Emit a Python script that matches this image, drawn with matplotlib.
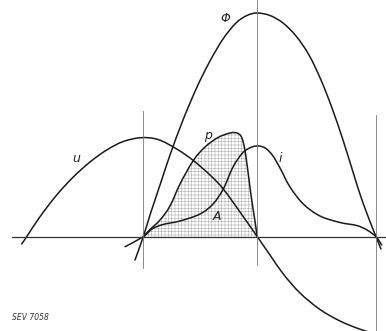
import numpy as np
import matplotlib
matplotlib.use("Agg")
import matplotlib.pyplot as plt
from matplotlib.path import Path
from matplotlib.patches import PathPatch

# curve points (x, y in picture units, y downwards)
u_x = [21.7, 26.7, 40.0, 56.7, 73.3, 90.0, 106.7, 123.3, 141.0, 158.0, 176.7, 193.3, 210.0, 223.3, 240.0, 257.3, 270.0, 283.3, 300.0, 320.0, 340.0, 358.0, 372.0]
u_y = [244.0, 236.7, 216.7, 195.0, 177.0, 162.0, 150.0, 141.5, 137.7, 139.5, 149.0, 160.5, 175.0, 189.0, 212.0, 236.7, 255.0, 274.0, 293.0, 309.5, 321.0, 328.5, 333.0]

phi_x = [135.0, 143.3, 150.0, 160.0, 170.0, 183.0, 197.0, 210.0, 223.0, 236.0, 247.0, 257.0, 270.0, 283.0, 296.0, 309.0, 321.0, 332.0, 343.0, 353.0, 363.0, 376.0, 381.0]
phi_y = [260.0, 236.7, 215.0, 185.0, 155.0, 120.0, 87.0, 61.0, 39.0, 23.0, 15.5, 13.0, 15.5, 23.0, 36.0, 55.0, 80.0, 108.0, 140.0, 172.0, 203.0, 236.7, 249.0]

i_x = [125.0, 143.3, 152.0, 163.0, 180.0, 200.0, 213.0, 223.3, 233.0, 243.0, 252.0, 259.0, 266.0, 273.0, 280.0, 290.0, 303.3, 320.0, 340.0, 356.7, 367.0, 376.0, 381.7]
i_y = [246.7, 236.7, 229.0, 224.5, 221.0, 214.0, 204.0, 189.0, 167.0, 152.5, 147.0, 146.0, 148.5, 156.0, 168.0, 187.0, 204.0, 216.0, 222.5, 225.5, 230.0, 236.7, 245.0]

p_x = [143.3, 150.0, 160.0, 170.0, 180.0, 193.3, 205.0, 218.0, 230.0, 237.0, 241.5, 244.5, 247.5, 251.0, 254.5, 257.3]
p_y = [236.7, 229.5, 220.0, 206.0, 184.0, 160.5, 147.0, 137.5, 133.0, 133.0, 137.0, 148.0, 168.0, 195.0, 218.0, 236.7]

# axis and verticals
axis_y = 236.7
vert_x = [143.3, 257.3, 375.7]
vert_top = [111.0, 0.0, 115.0]
vert_bot = [268.0, 265.0, 331.0]


def smooth_path(xs, ys):
    # Catmull-Rom through the points, drawn as cubic Bezier segments
    pts = np.column_stack([xs, ys])
    verts = [pts[0]]
    codes = [Path.MOVETO]
    n = len(pts)
    for k in range(n - 1):
        p0 = pts[max(k - 1, 0)]
        p1 = pts[k]
        p2 = pts[k + 1]
        p3 = pts[min(k + 2, n - 1)]
        verts += [p1 + (p2 - p0) / 6, p2 - (p3 - p1) / 6, p2]
        codes += [Path.CURVE4] * 3
    return verts, codes


fig = plt.figure(figsize=(3.86, 3.31), dpi=100)
ax = fig.add_axes([0, 0, 1, 1])
ax.set_xlim(0, 386)
ax.set_ylim(331, 0)
ax.axis("off")

# hatched area A under p
v, c = smooth_path(p_x, p_y)
v = v + [(p_x[-1], axis_y), (p_x[0], axis_y), (p_x[0], axis_y)]
c = c + [Path.LINETO, Path.LINETO, Path.CLOSEPOLY]
plt.rcParams["hatch.linewidth"] = 0.35
plt.rcParams["hatch.color"] = "#a8a8a8"
ax.add_patch(PathPatch(Path(v, c), facecolor="none", edgecolor="#a8a8a8",
                       hatch="+++++", lw=0))

# axis lines
ax.plot([12, 386], [axis_y, axis_y], color="#333333", lw=0.9)
for vx, t, b in zip(vert_x, vert_top, vert_bot):
    ax.plot([vx, vx], [t, b], color="#777777", lw=0.6)

for xs, ys in [(u_x, u_y), (phi_x, phi_y), (i_x, i_y), (p_x, p_y)]:
    v, c = smooth_path(xs, ys)
    ax.add_patch(PathPatch(Path(v, c), facecolor="none", edgecolor="#1a1a1a",
                           lw=1.1, capstyle="round", joinstyle="round"))

lab = dict(fontsize=9, style="italic", color="#222222", ha="center", va="center")
ax.text(225, 18, "Φ", **lab)
ax.text(208, 136, "p", **lab)
ax.text(76, 159, "u", **lab)
ax.text(280, 159, "i", **lab)
ax.text(216.7, 217, "A", **lab)
ax.text(12, 318, "SEV 7058", fontsize=5.5, style="italic", color="#333333",
        ha="left", va="center")

fig.savefig("out.png", dpi=100)
